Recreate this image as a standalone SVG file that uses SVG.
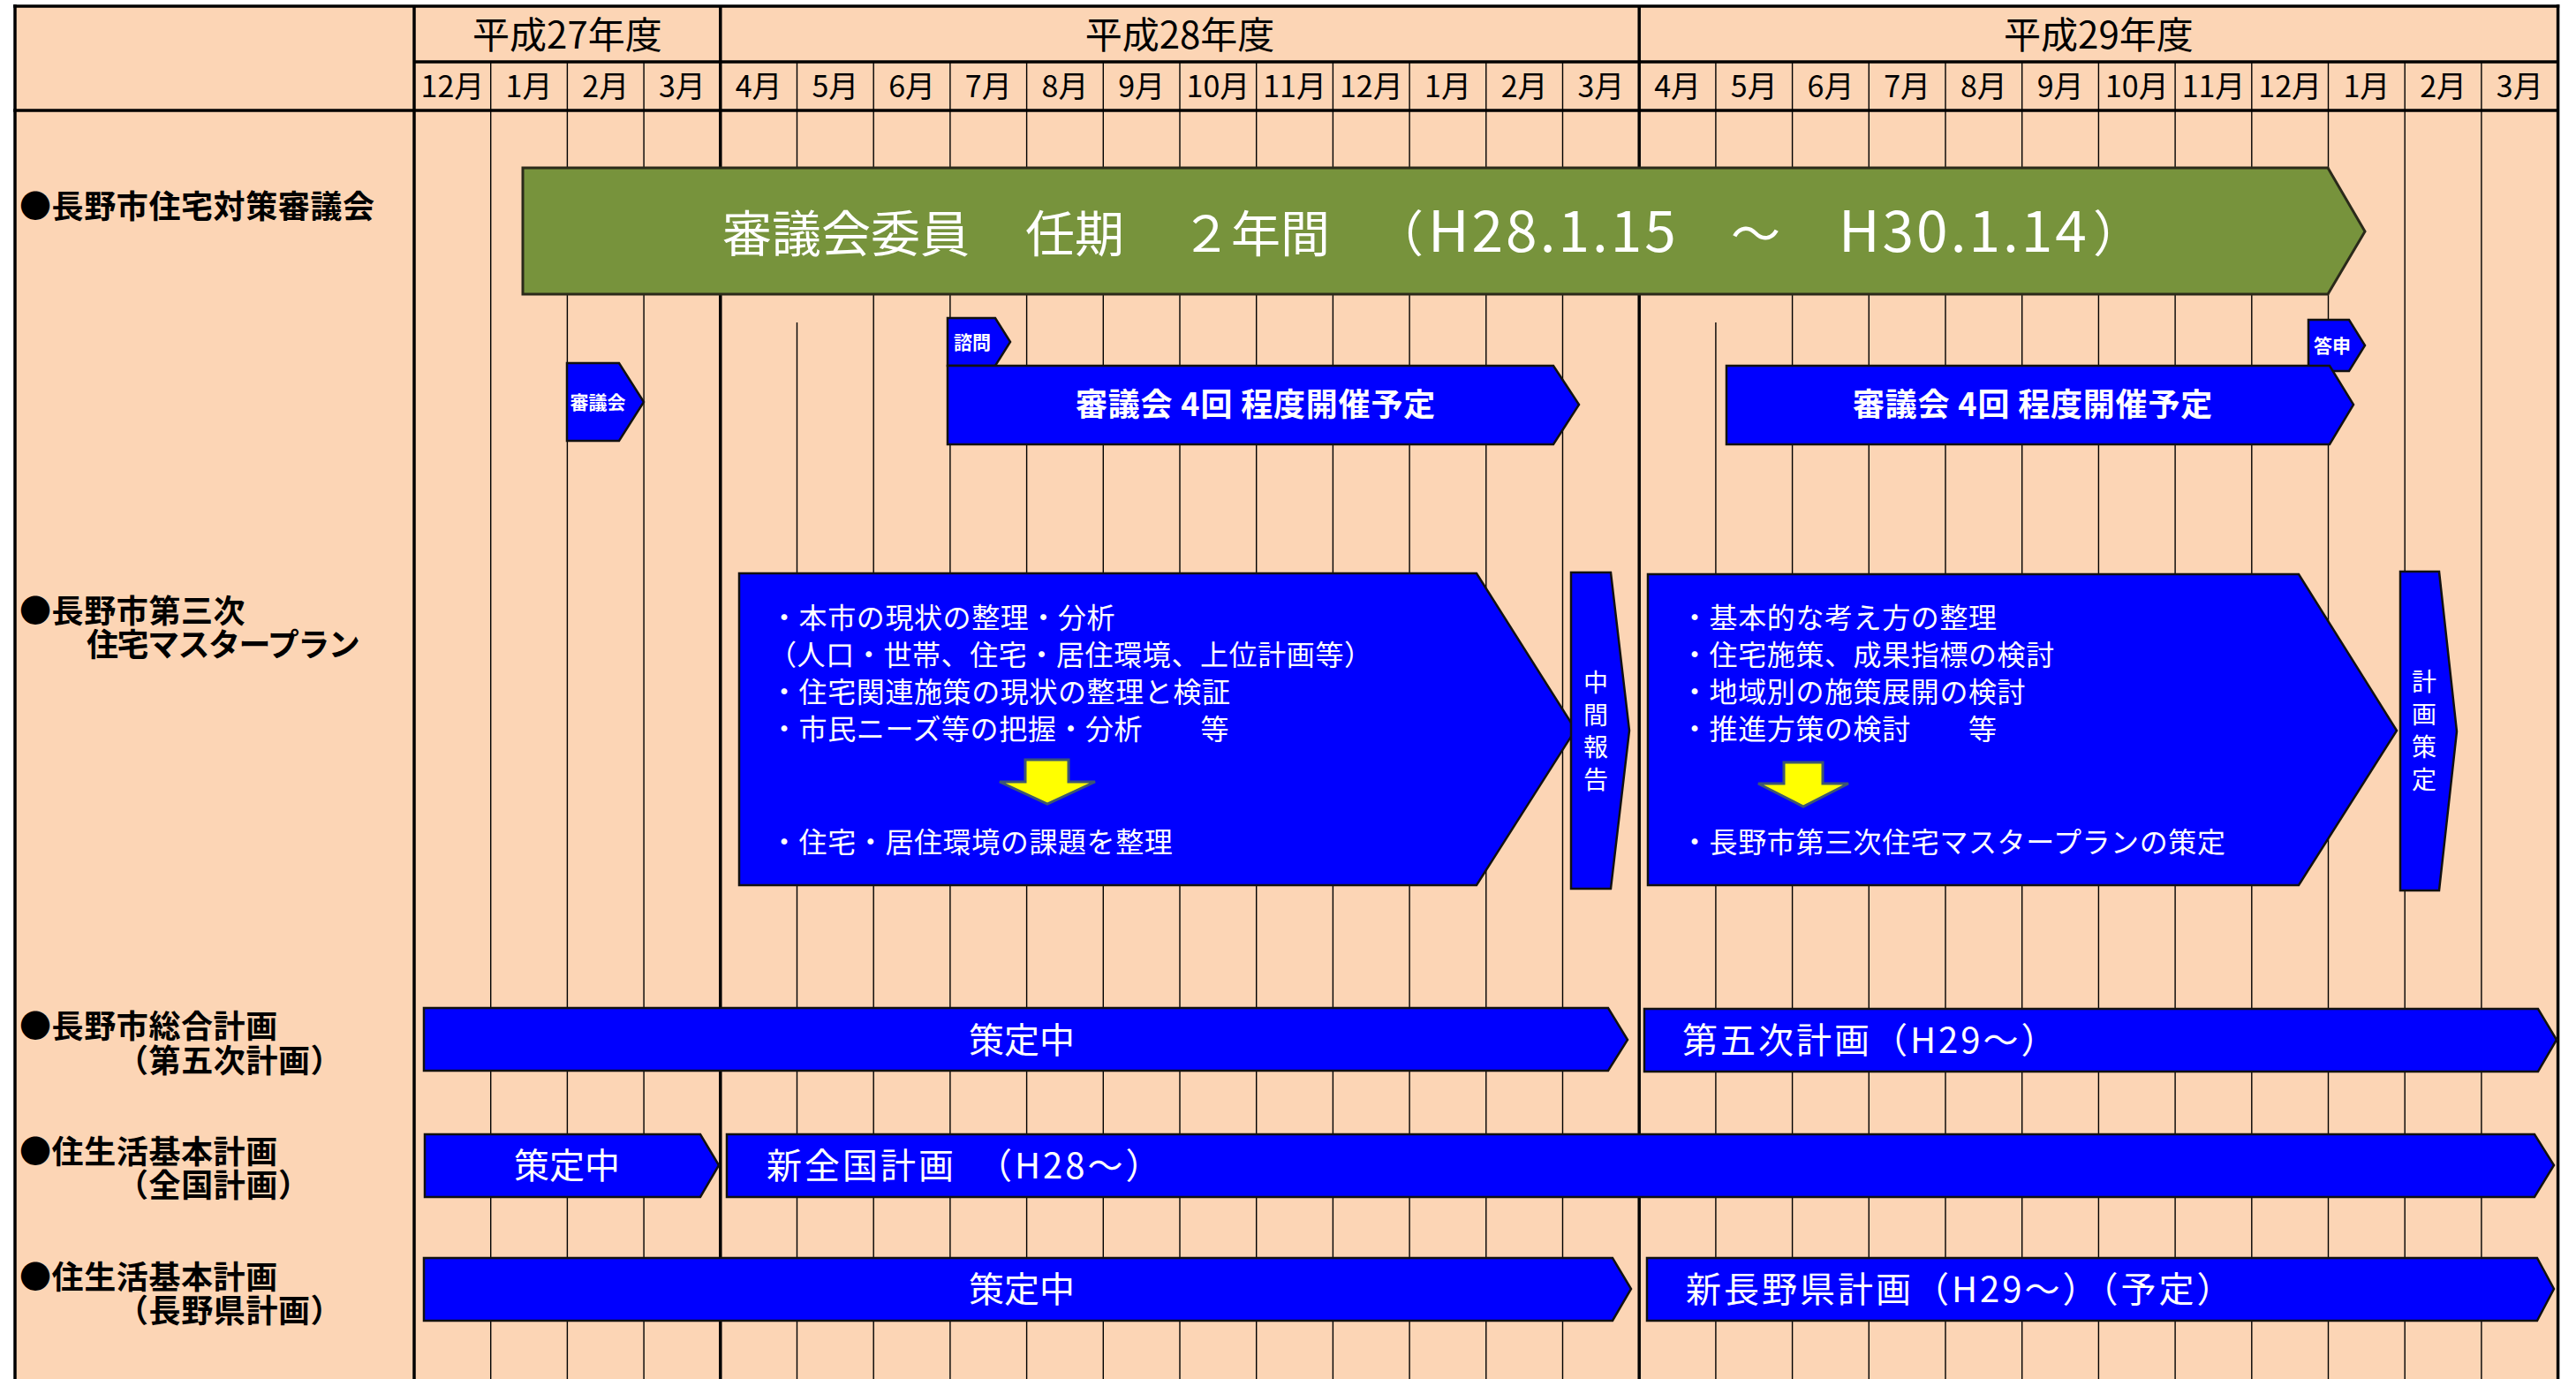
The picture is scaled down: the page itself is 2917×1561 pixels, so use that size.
<svg xmlns="http://www.w3.org/2000/svg" width="2917" height="1561" viewBox="0 0 2917 1561">
<style>
text{font-family:"Noto Sans CJK JP","Noto Sans CJK SC",sans-serif;}
.thin{stroke:#000;stroke-width:1.4;fill:none}
.thick{stroke:#000;stroke-width:3.5;fill:none}
.blue{fill:#0000FF;stroke:#111;stroke-width:2.5;stroke-linejoin:miter}
.green{fill:#77933C;stroke:#2b2a1a;stroke-width:3}
.yel{fill:#FFFF00;stroke:#3d5673;stroke-width:3;stroke-linejoin:miter}
.hdr{font-size:42px;fill:#000;text-anchor:middle}
.mon{font-size:34px;fill:#000;text-anchor:middle}
.lbl{font-size:36px;font-weight:700;fill:#000;letter-spacing:0.6px}
.w{fill:#fff}
.mid{text-anchor:middle}
.pt{font-size:32px;fill:#fff;letter-spacing:0.6px}
.bt{font-size:40px;fill:#fff}
.ls{letter-spacing:3px}
.sm{font-size:21px;fill:#fff;font-weight:700;text-anchor:middle}
.vt{font-size:28px;fill:#fff;text-anchor:middle}
</style>
<rect x="0" y="0" width="2917" height="1561" fill="#ffffff"/>
<rect x="17" y="7" width="2880" height="1554" fill="#FCD5B5"/>
<g id="grid">
<path class="thin" d="M555.7 70V1561M642.4 70V1561M729.1 70V1561M902.5 70V333M902.5 365V1561M989.2 70V1561M1075.9 70V1561M1162.6 70V1561M1249.3 70V1561M1336 70V1561M1422.7 70V1561M1509.4 70V1561M1596.1 70V1561M1682.8 70V1561M1769.5 70V1561M1942.9 70V333M1942.9 365V1561M2029.6 70V1561M2116.3 70V1561M2203 70V1561M2289.7 70V1561M2376.4 70V1561M2463.1 70V1561M2549.8 70V1561M2636.5 70V1561M2723.2 70V1561M2809.9 70V1561"/>
<path class="thick" d="M17 5V1561M469 7V1561M815.8 7V1561M1856.2 7V1561M2896.6 5V1561M15 7H2898.5M469 70H2897M15 125H2897"/>
</g>
<g id="header">
<text class="hdr" x="642.4" y="55">平成27年度</text>
<text class="hdr" x="1336" y="55">平成28年度</text>
<text class="hdr" x="2376.4" y="55">平成29年度</text>
<text class="mon" x="512.4" y="110">12月</text>
<text class="mon" x="599" y="110">1月</text>
<text class="mon" x="685.8" y="110">2月</text>
<text class="mon" x="772.4" y="110">3月</text>
<text class="mon" x="859.2" y="110">4月</text>
<text class="mon" x="945.9" y="110">5月</text>
<text class="mon" x="1032.6" y="110">6月</text>
<text class="mon" x="1119.3" y="110">7月</text>
<text class="mon" x="1206" y="110">8月</text>
<text class="mon" x="1292.7" y="110">9月</text>
<text class="mon" x="1379.4" y="110">10月</text>
<text class="mon" x="1466.1" y="110">11月</text>
<text class="mon" x="1552.8" y="110">12月</text>
<text class="mon" x="1639.5" y="110">1月</text>
<text class="mon" x="1726.2" y="110">2月</text>
<text class="mon" x="1812.9" y="110">3月</text>
<text class="mon" x="1899.6" y="110">4月</text>
<text class="mon" x="1986.3" y="110">5月</text>
<text class="mon" x="2073" y="110">6月</text>
<text class="mon" x="2159.7" y="110">7月</text>
<text class="mon" x="2246.4" y="110">8月</text>
<text class="mon" x="2333.1" y="110">9月</text>
<text class="mon" x="2419.8" y="110">10月</text>
<text class="mon" x="2506.5" y="110">11月</text>
<text class="mon" x="2593.2" y="110">12月</text>
<text class="mon" x="2679.9" y="110">1月</text>
<text class="mon" x="2766.6" y="110">2月</text>
<text class="mon" x="2853.3" y="110">3月</text>
</g>
<g id="labels">
<text class="lbl" x="22" y="247">●長野市住宅対策審議会</text>
<text class="lbl"><tspan x="22" y="705">●長野市第三次</tspan><tspan x="98" y="743" letter-spacing="-1.5">住宅マスタープラン</tspan></text>
<text class="lbl"><tspan x="22" y="1175">●長野市総合計画</tspan><tspan x="132" y="1214">（第五次計画）</tspan></text>
<text class="lbl"><tspan x="22" y="1317">●住生活基本計画</tspan><tspan x="132" y="1355">（全国計画）</tspan></text>
<text class="lbl"><tspan x="22" y="1459">●住生活基本計画</tspan><tspan x="132" y="1497">（長野県計画）</tspan></text>
</g>
<g id="term">
<polygon class="green" points="592,190 2636,190 2678,262 2636,333 592,333"/>
<text class="w" font-size="56" y="285"><tspan x="818">審議会委員　</tspan><tspan x="1161">任期　</tspan><tspan x="1338">２年間　</tspan><tspan x="1556">（</tspan><tspan x="1617" font-size="64" letter-spacing="3">H28.1.15</tspan><tspan x="1904">　～　</tspan><tspan x="2082" font-size="64" letter-spacing="3">H30.1.14</tspan><tspan x="2370">）</tspan></text>
</g>
<g id="shingikai">
<polygon class="blue" points="642,411 701,411 729,455 701,499 642,499"/>
<text class="sm" x="677" y="463">審議会</text>
</g>
<g id="shimon">
<polygon class="blue" points="1073,360 1127,360 1144,387 1127,414 1073,414"/>
<text class="sm" x="1101" y="395">諮問</text>
</g>
<g id="toshin">
<polygon class="blue" points="2614,362 2660,362 2678,391 2660,420 2614,420"/>
<text class="sm" x="2641" y="399">答申</text>
</g>
<g id="meeting1">
<polygon class="blue" points="1073,414 1759,414 1788,458 1759,503 1073,503"/>
<text class="w mid" font-size="36" font-weight="700" letter-spacing="0.8" x="1422" y="471">審議会 4回 程度開催予定</text>
</g>
<g id="meeting2">
<polygon class="blue" points="1955,414 2638,414 2665,458 2638,503 1955,503"/>
<text class="w mid" font-size="36" font-weight="700" letter-spacing="0.8" x="2302" y="471">審議会 4回 程度開催予定</text>
</g>
<g id="analysis">
<polygon class="blue" points="837,649 1672,649 1784,826 1672,1002 837,1002"/>
<text class="pt" x="872" y="711">・本市の現状の整理・分析</text>
<text class="pt" x="870" y="753">（人口・世帯、住宅・居住環境、上位計画等）</text>
<text class="pt" x="872" y="795">・住宅関連施策の現状の整理と検証</text>
<text class="pt" x="872" y="837">・市民ニーズ等の把握・分析　　等</text>
<polygon class="yel" points="1161,860 1210,860 1210,885 1240,885 1186,910 1132,885 1161,885"/>
<text class="pt" x="872" y="965">・住宅・居住環境の課題を整理</text>
</g>
<g id="interim">
<polygon class="blue" points="1779,648 1824,648 1845,827 1824,1006 1779,1006"/>
<text class="vt"><tspan x="1807" y="783">中</tspan><tspan x="1807" y="820">間</tspan><tspan x="1807" y="856">報</tspan><tspan x="1807" y="893">告</tspan></text>
</g>
<g id="planning">
<polygon class="blue" points="1866,650 2603,650 2714,827 2603,1002 1866,1002"/>
<text class="pt" x="1903" y="711">・基本的な考え方の整理</text>
<text class="pt" x="1903" y="753">・住宅施策、成果指標の検討</text>
<text class="pt" x="1903" y="795">・地域別の施策展開の検討</text>
<text class="pt" x="1903" y="837">・推進方策の検討　　等</text>
<polygon class="yel" points="2020,863 2064,863 2064,887 2093,887 2042,913 1991,887 2020,887"/>
<text class="pt" x="1903" y="965">・長野市第三次住宅マスタープランの策定</text>
</g>
<g id="decision">
<polygon class="blue" points="2718,647 2762,647 2782,828 2762,1008 2718,1008"/>
<text class="vt"><tspan x="2745" y="782">計</tspan><tspan x="2745" y="819">画</tspan><tspan x="2745" y="856">策</tspan><tspan x="2745" y="893">定</tspan></text>
</g>
<g id="sogo1">
<polygon class="blue" points="480,1141 1821,1141 1843,1177 1821,1212 480,1212"/>
<text class="bt mid" x="1157" y="1192">策定中</text>
</g>
<g id="sogo2">
<polygon class="blue" points="1862,1142 2874,1142 2895,1177 2874,1213 1862,1213"/>
<text class="bt ls" x="1905" y="1192">第五次計画（H29～）</text>
</g>
<g id="zenkoku1">
<polygon class="blue" points="481,1284 793,1284 814,1319 793,1355 481,1355"/>
<text class="bt mid" x="642" y="1334">策定中</text>
</g>
<g id="zenkoku2">
<polygon class="blue" points="823,1284 2870,1284 2892,1319 2870,1355 823,1355"/>
<text class="bt ls" x="868" y="1334">新全国計画　（H28～）</text>
</g>
<g id="ken1">
<polygon class="blue" points="480,1424 1826,1424 1847,1459 1826,1495 480,1495"/>
<text class="bt mid" x="1157" y="1474">策定中</text>
</g>
<g id="ken2">
<polygon class="blue" points="1865,1424 2873,1424 2892,1459 2873,1495 1865,1495"/>
<text class="bt ls" x="1909" y="1474">新長野県計画（H29～）（予定）</text>
</g>
</svg>
